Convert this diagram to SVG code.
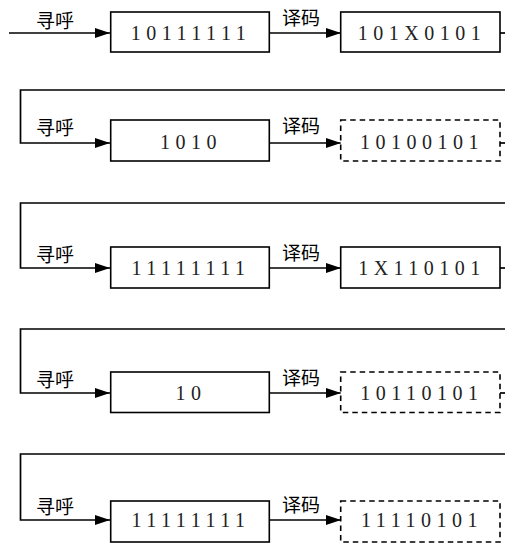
<svg xmlns="http://www.w3.org/2000/svg" width="505" height="544" viewBox="0 0 505 544">
<defs>
<marker id="ah" markerWidth="16" markerHeight="12" refX="15" refY="6" orient="auto" markerUnits="userSpaceOnUse">
<path d="M0,1 L15,6 L0,11 Z" fill="#000"/>
</marker>
<style>
.box{fill:#fff;stroke:#000;stroke-width:1.6}
.dash{fill:#fff;stroke:#000;stroke-width:1.6;stroke-dasharray:5.5 4}
.ln{fill:none;stroke:#000;stroke-width:1.7}
.num{font-family:"Liberation Serif",serif;font-size:20px;letter-spacing:5.5px;text-anchor:middle;fill:#222}
.lbl{font-family:"Noto Sans CJK SC",sans-serif;font-size:19px;fill:#000}
</style>
</defs>
<rect width="505" height="544" fill="#fff"/>
<g id="connectors">
<path class="ln" d="M9,33 H110" marker-end="url(#ah)"/>
<path class="ln" d="M270,33 H341" marker-end="url(#ah)"/>
<path class="ln" d="M500,33 H505"/>
<path class="ln" d="M505,90 H20.5 V143 H110" marker-end="url(#ah)"/>
<path class="ln" d="M270,143 H341" marker-end="url(#ah)"/>
<path class="ln" d="M500,143 H505"/>
<path class="ln" d="M505,203 H20.5 V268 H110" marker-end="url(#ah)"/>
<path class="ln" d="M270,268 H341" marker-end="url(#ah)"/>
<path class="ln" d="M500,268 H505"/>
<path class="ln" d="M505,329 H20.5 V393 H110" marker-end="url(#ah)"/>
<path class="ln" d="M270,393 H341" marker-end="url(#ah)"/>
<path class="ln" d="M500,393 H505"/>
<path class="ln" d="M505,454 H20.5 V520 H110" marker-end="url(#ah)"/>
<path class="ln" d="M270,520 H341" marker-end="url(#ah)"/>
<text class="lbl" x="36" y="28">寻呼</text>
<text class="lbl" x="282" y="25">译码</text>
<text class="lbl" x="36" y="135">寻呼</text>
<text class="lbl" x="282" y="133">译码</text>
<text class="lbl" x="36" y="262">寻呼</text>
<text class="lbl" x="282" y="260">译码</text>
<text class="lbl" x="36" y="387">寻呼</text>
<text class="lbl" x="282" y="385">译码</text>
<text class="lbl" x="36" y="514">寻呼</text>
<text class="lbl" x="282" y="512">译码</text>
</g>
<g id="n1a"><rect class="box" x="110.7" y="12" width="158.6" height="40"/><text class="num" x="191" y="40">10111111</text></g>
<g id="n1b"><rect class="box" x="340.7" y="12" width="159.3" height="40"/><text class="num" x="422" y="40">101X0101</text></g>
<g id="n2a"><rect class="box" x="110.7" y="120" width="158.6" height="41"/><text class="num" x="191" y="149">1010</text></g>
<g id="n2b"><rect class="dash" x="340.7" y="120" width="159.3" height="41"/><text class="num" x="422" y="149">10100101</text></g>
<g id="n3a"><rect class="box" x="110.7" y="247" width="158.6" height="41"/><text class="num" x="191" y="275">11111111</text></g>
<g id="n3b"><rect class="box" x="340.7" y="247" width="159.3" height="41"/><text class="num" x="422" y="275">1X110101</text></g>
<g id="n4a"><rect class="box" x="110.7" y="372" width="158.6" height="40.5"/><text class="num" x="191" y="400">10</text></g>
<g id="n4b"><rect class="dash" x="340.7" y="372" width="159.3" height="40.5"/><text class="num" x="422" y="400">10110101</text></g>
<g id="n5a"><rect class="box" x="110.7" y="501" width="158.6" height="41"/><text class="num" x="191" y="527">11111111</text></g>
<g id="n5b"><rect class="dash" x="340.7" y="501" width="159.3" height="41"/><text class="num" x="422" y="527">11110101</text></g>
</svg>
